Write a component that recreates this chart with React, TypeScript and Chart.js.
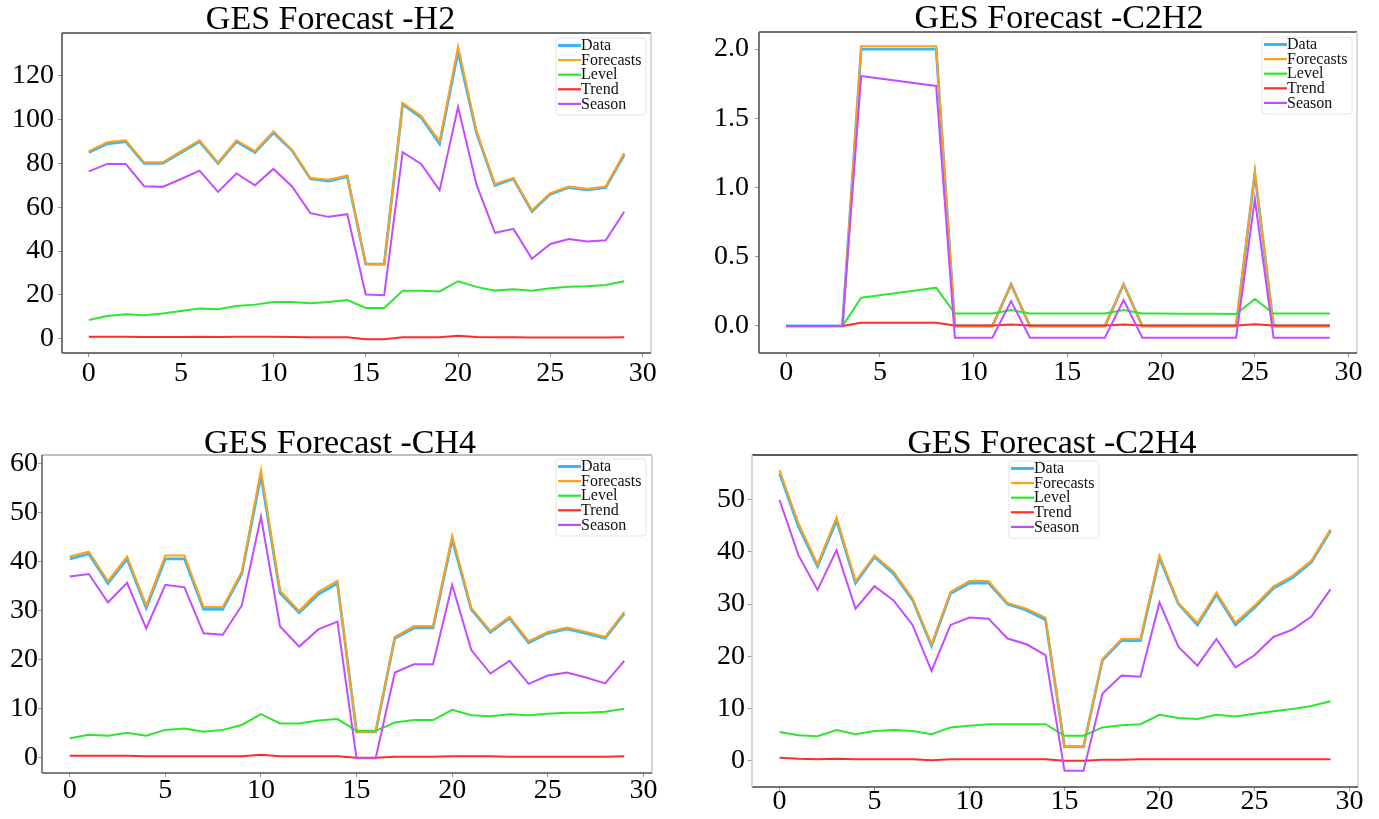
import React, { useEffect, useRef } from 'react';
import { Chart, registerables } from 'chart.js';

Chart.register(...registerables);

const FONT = '"Liberation Serif", "Times New Roman", Times, serif';

// ---------- shared categories / ticks ----------
const xIndex = [0, 1, 2, 3, 4, 5, 6, 7, 8, 9, 10, 11, 12, 13, 14, 15, 16, 17, 18, 19, 20, 21, 22, 23, 24, 25, 26, 27, 28, 29];
const xTicks = [0, 5, 10, 15, 20, 25, 30];
const seriesNames = ['Data', 'Forecasts', 'Level', 'Trend', 'Season'];
const seriesColors = ['#3bb8f2', '#ffa01a', '#2ee62e', '#ff2b2b', '#c24cff'];

// ---------- H2 ----------
const h2Data = [85.0, 89.0, 90.0, 80.0, 80.0, 85.0, 90.0, 80.0, 90.0, 85.0, 94.0, 86.0, 73.0, 72.0, 74.0, 34.0, 34.0, 107.0, 101.0, 89.0, 131.0, 94.0, 70.0, 73.0, 58.0, 66.0, 69.0, 68.0, 69.0, 84.0];
const h2Forecasts = [85.6, 89.7, 90.6, 80.5, 80.5, 85.6, 90.6, 80.5, 90.6, 85.6, 94.7, 86.3, 73.4, 72.6, 74.5, 34.1, 34.0, 107.6, 101.8, 90.1, 133.5, 94.7, 70.6, 73.4, 58.6, 66.5, 69.5, 68.5, 69.5, 84.8];
const h2Level = [8.5, 10.3, 11.1, 10.6, 11.5, 12.6, 13.7, 13.4, 14.9, 15.5, 16.7, 16.7, 16.1, 16.7, 17.6, 14.0, 14.0, 21.8, 21.8, 21.5, 26.2, 23.6, 21.9, 22.5, 21.8, 23.0, 23.7, 23.9, 24.5, 26.2];
const h2Trend = [0.8, 0.8, 0.8, 0.7, 0.7, 0.7, 0.8, 0.7, 0.8, 0.8, 0.8, 0.7, 0.6, 0.6, 0.6, -0.3, -0.3, 0.6, 0.6, 0.6, 1.3, 0.7, 0.6, 0.6, 0.5, 0.5, 0.5, 0.5, 0.5, 0.6];
const h2Season = [76.4, 79.8, 79.8, 69.6, 69.3, 72.9, 76.7, 67.0, 75.4, 70.0, 77.5, 69.6, 57.3, 55.6, 56.8, 20.1, 19.8, 85.2, 79.8, 67.7, 105.8, 70.3, 48.3, 50.1, 36.4, 43.2, 45.5, 44.3, 44.9, 57.9];
const h2YTicks = [0, 20, 40, 60, 80, 100, 120];
const h2YLabels = ['0', '20', '40', '60', '80', '100', '120'];

// ---------- C2H2 ----------
const c2h2Data = [0, 0, 0, 0, 2.0, 2.0, 2.0, 2.0, 2.0, 0, 0, 0, 0.3, 0, 0, 0, 0, 0, 0.3, 0, 0, 0, 0, 0, 0, 1.1, 0, 0, 0, 0];
const c2h2Forecasts = [0, 0, 0, 0, 2.02, 2.02, 2.02, 2.02, 2.02, 0, 0, 0, 0.3, 0, 0, 0, 0, 0, 0.3, 0, 0, 0, 0, 0, 0, 1.115, 0, 0, 0, 0];
const c2h2Level = [0, 0, 0, 0, 0.204, 0.222, 0.24, 0.258, 0.277, 0.09, 0.09, 0.09, 0.115, 0.09, 0.09, 0.09, 0.09, 0.09, 0.115, 0.09, 0.09, 0.089, 0.089, 0.088, 0.087, 0.195, 0.09, 0.09, 0.09, 0.09];
const c2h2Trend = [0, 0, 0, 0, 0.024, 0.024, 0.024, 0.024, 0.024, 0.003, 0.003, 0.003, 0.01, 0.003, 0.003, 0.003, 0.003, 0.003, 0.01, 0.003, 0.003, 0.003, 0.003, 0.003, 0.003, 0.012, 0.003, 0.003, 0.003, 0.003];
const c2h2Season = [0, 0, 0, 0, 1.805, 1.787, 1.769, 1.751, 1.733, -0.084, -0.084, -0.084, 0.18, -0.084, -0.084, -0.084, -0.084, -0.084, 0.188, -0.084, -0.084, -0.084, -0.084, -0.084, -0.084, 0.915, -0.084, -0.084, -0.084, -0.084];
const c2h2YTicks = [0, 0.5, 1.0, 1.5, 2.0];
const c2h2YLabels = ['0.0', '0.5', '1.0', '1.5', '2.0'];

// ---------- CH4 ----------
const ch4Data = [40.5, 41.5, 35.5, 40.5, 30.5, 40.5, 40.5, 30.2, 30.2, 37.5, 57.5, 33.5, 29.5, 33.3, 35.5, 5.2, 5.2, 24.3, 26.4, 26.4, 44.5, 30.2, 25.5, 28.4, 23.4, 25.3, 26.2, 25.3, 24.3, 29.3];
const ch4Forecasts = [41.0, 42.0, 36.0, 41.0, 31.0, 41.2, 41.2, 30.7, 30.7, 37.9, 58.6, 34.0, 29.9, 33.8, 36.0, 5.2, 5.2, 24.6, 26.8, 26.8, 45.2, 30.5, 25.8, 28.7, 23.7, 25.6, 26.5, 25.6, 24.6, 29.7];
const ch4Level = [3.9, 4.6, 4.4, 5.0, 4.4, 5.6, 5.9, 5.2, 5.6, 6.6, 8.8, 6.9, 6.9, 7.5, 7.8, 5.4, 5.4, 7.1, 7.6, 7.6, 9.7, 8.6, 8.4, 8.8, 8.6, 8.9, 9.1, 9.1, 9.3, 9.9];
const ch4Trend = [0.3, 0.3, 0.3, 0.3, 0.2, 0.2, 0.2, 0.2, 0.2, 0.2, 0.5, 0.2, 0.2, 0.2, 0.2, -0.1, -0.1, 0.1, 0.1, 0.1, 0.2, 0.2, 0.2, 0.1, 0.1, 0.1, 0.1, 0.1, 0.1, 0.2];
const ch4Season = [36.9, 37.4, 31.6, 35.6, 26.3, 35.2, 34.7, 25.3, 25.0, 31.0, 49.1, 26.7, 22.6, 26.1, 27.7, -0.2, -0.2, 17.3, 19.0, 19.0, 35.2, 21.9, 17.1, 19.7, 15.0, 16.7, 17.3, 16.3, 15.1, 19.7];
const ch4YTicks = [0, 10, 20, 30, 40, 50, 60];
const ch4YLabels = ['0', '10', '20', '30', '40', '50', '60'];

// ---------- C2H4 ----------
const c2h4Data = [55.0, 44.8, 37.2, 46.0, 34.0, 39.0, 35.8, 30.8, 22.0, 32.0, 34.0, 34.0, 30.0, 28.8, 27.0, 2.7, 2.7, 19.3, 23.0, 23.0, 38.8, 30.0, 26.0, 31.8, 26.0, 29.3, 33.0, 35.0, 38.0, 44.0];
const c2h4Forecasts = [55.6, 45.4, 37.6, 46.6, 34.4, 39.3, 36.2, 31.1, 22.3, 32.3, 34.4, 34.4, 30.2, 29.1, 27.4, 2.7, 2.7, 19.5, 23.3, 23.3, 39.3, 30.2, 26.4, 32.2, 26.4, 29.7, 33.4, 35.4, 38.3, 44.3];
const c2h4Level = [5.5, 4.9, 4.7, 5.9, 5.1, 5.7, 5.9, 5.7, 5.1, 6.4, 6.7, 7.0, 7.0, 7.0, 7.0, 4.8, 4.8, 6.4, 6.8, 7.0, 8.8, 8.2, 8.0, 8.8, 8.5, 9.0, 9.5, 9.9, 10.5, 11.4];
const c2h4Trend = [0.6, 0.4, 0.3, 0.4, 0.3, 0.3, 0.3, 0.3, 0.1, 0.3, 0.3, 0.3, 0.3, 0.3, 0.3, 0.0, 0.0, 0.2, 0.2, 0.3, 0.3, 0.3, 0.3, 0.3, 0.3, 0.3, 0.3, 0.3, 0.3, 0.3];
const c2h4Season = [49.9, 39.3, 32.7, 40.3, 29.1, 33.4, 30.7, 26.0, 17.2, 26.0, 27.4, 27.2, 23.4, 22.3, 20.2, -1.9, -1.9, 12.9, 16.3, 16.1, 30.3, 21.8, 18.2, 23.3, 17.9, 20.2, 23.7, 25.1, 27.6, 32.8];
const c2h4YTicks = [0, 10, 20, 30, 40, 50];
const c2h4YLabels = ['0', '10', '20', '30', '40', '50'];

type Rect = { left: number; top: number; width: number; height: number };
type Plot = { left: number; top: number; right: number; bottom: number };
type PanelSpec = {
  title: string;
  series: number[][];
  yMin: number;
  yMax: number;
  yTicks: number[];
  yLabels: string[];
  box: Rect;
  plot: Plot;
  titleDx: number;
  titleDy: number;
  xPad: number;
  yPad: number;
  legendSide: 'left' | 'right';
  legendDx: number;
  legendDy: number;
  frame: string[]; // top, right, bottom, left
};

const panels: PanelSpec[] = [
  {
    title: 'GES Forecast -H2',
    series: [h2Data, h2Forecasts, h2Level, h2Trend, h2Season],
    yMin: -6.6, yMax: 139.6, yTicks: h2YTicks, yLabels: h2YLabels,
    box: { left: 0, top: 0, width: 672, height: 405 },
    plot: { left: 62, top: 33, right: 651, bottom: 353 },
    titleDx: -26, titleDy: 4.5, xPad: 3, yPad: 4,
    legendSide: 'right', legendDx: 5, legendDy: 5,
    frame: ['#444444', '#cfcfcf', '#444444', '#555555'],
  },
  {
    title: 'GES Forecast -C2H2',
    series: [c2h2Data, c2h2Forecasts, c2h2Level, c2h2Trend, c2h2Season],
    yMin: -0.195, yMax: 2.123, yTicks: c2h2YTicks, yLabels: c2h2YLabels,
    box: { left: 680, top: 0, width: 699, height: 405 },
    plot: { left: 759, top: 32, right: 1357, bottom: 353 },
    titleDx: 1, titleDy: 3.7, xPad: 2, yPad: 6,
    legendSide: 'right', legendDx: 5, legendDy: 5,
    frame: ['#444444', '#d5d5d5', '#444444', '#555555'],
  },
  {
    title: 'GES Forecast -CH4',
    series: [ch4Data, ch4Forecasts, ch4Level, ch4Trend, ch4Season],
    yMin: -3.2, yMax: 61.7, yTicks: ch4YTicks, yLabels: ch4YLabels,
    box: { left: 0, top: 410, width: 672, height: 409 },
    plot: { left: 42, top: 455, right: 652, bottom: 773 },
    titleDx: -7, titleDy: 2, xPad: 0, yPad: 0,
    legendSide: 'right', legendDx: 6, legendDy: 4,
    frame: ['#a8a8a8', '#cfcfcf', '#555555', '#666666'],
  },
  {
    title: 'GES Forecast -C2H4',
    series: [c2h4Data, c2h4Forecasts, c2h4Level, c2h4Trend, c2h4Season],
    yMin: -5.0, yMax: 58.5, yTicks: c2h4YTicks, yLabels: c2h4YLabels,
    box: { left: 680, top: 410, width: 699, height: 409 },
    plot: { left: 752, top: 455, right: 1358, bottom: 787 },
    titleDx: -3, titleDy: 1.7, xPad: -3.3, yPad: 3,
    legendSide: 'left', legendDx: 257, legendDy: 6,
    frame: ['#222222', '#d5d5d5', '#444444', '#cccccc'],
  },
];

function Panel({ spec }: { spec: PanelSpec }) {
  const ref = useRef<HTMLCanvasElement | null>(null);

  useEffect(() => {
    const canvas = ref.current;
    if (!canvas) return;
    const { box, plot } = spec;

    const decor = {
      id: 'decor_' + spec.title,
      afterDraw(chart: any) {
        const ctx = chart.ctx as CanvasRenderingContext2D;
        const ca = chart.chartArea;
        ctx.save();
        // frame
        ctx.lineWidth = 1.6;
        const edges = [
          [ca.left, ca.top, ca.right, ca.top],
          [ca.right, ca.top, ca.right, ca.bottom],
          [ca.left, ca.bottom, ca.right, ca.bottom],
          [ca.left, ca.top, ca.left, ca.bottom],
        ];
        edges.forEach((e, i) => {
          ctx.strokeStyle = spec.frame[i];
          ctx.beginPath();
          ctx.moveTo(e[0], e[1]);
          ctx.lineTo(e[2], e[3]);
          ctx.stroke();
        });
        // title
        ctx.fillStyle = '#000';
        ctx.font = `34px ${FONT}`;
        ctx.textAlign = 'center';
        ctx.textBaseline = 'alphabetic';
        ctx.fillText(spec.title, (ca.left + ca.right) / 2 + spec.titleDx, ca.top - spec.titleDy);
        // legend
        const lw = 90;
        const lh = 77;
        const lx = spec.legendSide === 'right' ? ca.right - spec.legendDx - lw : ca.left + spec.legendDx;
        const ly = ca.top + spec.legendDy;
        ctx.fillStyle = 'rgba(255,255,255,0.85)';
        ctx.strokeStyle = '#e4e4e4';
        ctx.lineWidth = 1;
        ctx.beginPath();
        (ctx as any).roundRect ? (ctx as any).roundRect(lx, ly, lw, lh, 3) : ctx.rect(lx, ly, lw, lh);
        ctx.fill();
        ctx.stroke();
        ctx.font = `16px ${FONT}`;
        ctx.textAlign = 'left';
        ctx.textBaseline = 'middle';
        chart.data.datasets.forEach((ds: any, i: number) => {
          const y = ly + 7.5 + i * 14.6;
          ctx.strokeStyle = ds.borderColor;
          ctx.lineWidth = i === 0 ? 3 : 2.2;
          ctx.beginPath();
          ctx.moveTo(lx + 2, y);
          ctx.lineTo(lx + 25, y);
          ctx.stroke();
          ctx.fillStyle = '#111';
          ctx.fillText(ds.label, lx + 25, y + 0.5);
        });
        ctx.restore();
      },
    };

    const tickFont = { family: FONT, size: 28, lineHeight: 1 };
    const chart = new Chart(canvas, {
      type: 'line',
      data: {
        labels: xIndex,
        datasets: spec.series.map((vals, i) => ({
          label: seriesNames[i],
          data: vals,
          borderColor: seriesColors[i],
          backgroundColor: seriesColors[i],
          borderWidth: i === 0 ? 2.8 : 2,
          pointRadius: 0,
          tension: 0,
          fill: false,
          order: 5 - i,
        })),
      },
      options: {
        animation: false,
        responsive: true,
        maintainAspectRatio: false,
        events: [],
        layout: {
          padding: {
            left: 0,
            top: plot.top - box.top,
            right: box.left + box.width - plot.right,
            bottom: 0,
          },
        },
        plugins: {
          legend: { display: false },
          title: { display: false },
          tooltip: { enabled: false },
        },
        scales: {
          x: {
            type: 'linear',
            min: -1.45,
            max: 30.45,
            afterBuildTicks: (s: any) => {
              s.ticks = xTicks.map((v) => ({ value: v }));
            },
            afterFit: (s: any) => {
              s.height = box.top + box.height - plot.bottom;
            },
            grid: { display: true, drawOnChartArea: false, drawTicks: true, tickLength: 4, color: '#999' },
            border: { display: false },
            ticks: {
              font: tickFont,
              color: '#000',
              padding: spec.xPad,
              maxRotation: 0,
              autoSkip: false,
              callback: (v: any) => String(v),
            },
          },
          y: {
            type: 'linear',
            min: spec.yMin,
            max: spec.yMax,
            afterBuildTicks: (s: any) => {
              s.ticks = spec.yTicks.map((v) => ({ value: v }));
            },
            afterFit: (s: any) => {
              s.width = plot.left - box.left;
            },
            grid: { display: true, drawOnChartArea: false, drawTicks: true, tickLength: 4, color: '#999' },
            border: { display: false },
            ticks: {
              font: tickFont,
              color: '#000',
              padding: spec.yPad,
              autoSkip: false,
              callback: (_v: any, idx: number) => spec.yLabels[idx],
            },
          },
        },
      } as any,
      plugins: [decor],
    });
    return () => chart.destroy();
  }, [spec]);

  const { box } = spec;
  return (
    <div style={{ position: 'absolute', left: box.left, top: box.top, width: box.width, height: box.height }}>
      <canvas ref={ref} />
    </div>
  );
}

export default function App() {
  return (
    <div style={{ position: 'absolute', left: 0, top: 0, width: 1379, height: 819, background: '#fff', overflow: 'hidden' }}>
      {panels.map((p) => (
        <Panel key={p.title} spec={p} />
      ))}
    </div>
  );
}
